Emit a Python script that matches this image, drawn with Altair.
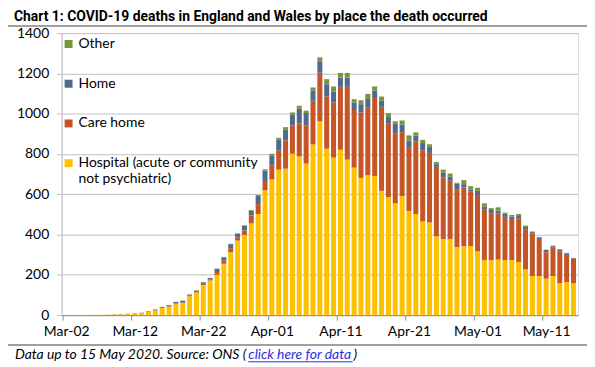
import altair as alt
import pandas as pd

# ---- categories -------------------------------------------------------------
dates = pd.date_range("2020-03-02", "2020-05-15", freq="D")
date_labels = [d.strftime("%b-%d") for d in dates]
tick_labels = date_labels[::10]

HOSP = "Hospital (acute or community not psychiatric)"
series_names = [HOSP, "Care home", "Home", "Other"]          # stacking order, bottom -> top
legend_order = ["Other", "Home", "Care home", HOSP]          # legend order, top -> bottom
legend_colors = ["#77963C", "#4F6A8A", "#C55527", "#FFC000"]

# ---- series values (deaths per day) ----------------------------------------
hospital = [1, 0, 1, 1, 2, 2, 3, 3, 4, 6,
            9, 10, 17, 24, 35, 42, 57, 60, 94, 112,
            150, 172, 200, 255, 312, 370, 398, 455, 502, 620,
            673, 722, 727, 801, 788, 752, 847, 962, 826, 782,
            821, 772, 732, 681, 695, 690, 617, 585, 555, 591,
            517, 502, 465, 460, 391, 378, 378, 338, 342, 342,
            317, 273, 273, 276, 273, 273, 263, 227, 194, 194,
            181, 194, 158, 164, 158]
care_home = [0, 0, 0, 0, 0, 0, 0, 0, 0, 0,
             0, 1, 1, 1, 2, 2, 3, 3, 3, 4,
             5, 4, 14, 15, 20, 15, 22, 40, 49, 46,
             71, 95, 140, 140, 164, 189, 217, 241, 259, 274,
             312, 361, 286, 325, 337, 388, 417, 365, 348, 317,
             317, 361, 353, 345, 345, 305, 289, 287, 292, 271,
             279, 250, 233, 230, 215, 200, 218, 197, 210, 184,
             131, 140, 159, 135, 122]
home = [0, 0, 0, 0, 0, 0, 0, 1, 1, 1,
        1, 1, 2, 3, 4, 5, 5, 8, 5, 6,
        8, 8, 15, 17, 20, 19, 23, 23, 40, 52,
        49, 53, 55, 55, 72, 62, 50, 57, 61, 54,
        46, 46, 38, 41, 41, 36, 30, 33, 46, 38,
        33, 28, 36, 30, 13, 23, 20, 27, 16, 11,
        21, 16, 20, 13, 16, 16, 11, 13, 8, 8,
        11, 8, 8, 8, 3]
other = [0, 0, 0, 0, 0, 0, 0, 0, 0, 0,
         0, 0, 0, 0, 0, 0, 1, 1, 1, 1,
         1, 1, 2, 2, 2, 2, 3, 4, 5, 6,
         8, 10, 11, 10, 15, 12, 16, 20, 25, 25,
         23, 23, 16, 20, 25, 21, 21, 20, 13, 20,
         25, 16, 16, 13, 11, 16, 16, 5, 20, 16,
         15, 16, 5, 16, 5, 8, 10, 7, 3, 2,
         2, 3, 3, 2, 1]

y_ticks = [0, 200, 400, 600, 800, 1000, 1200, 1400]

title_text = "Chart 1: COVID-19 deaths in England and Wales by place the death occurred"
foot_a = "Data up to 15 May 2020. Source: ONS ("
foot_b = "click here for data"
foot_c = ")"

# ---- long table -------------------------------------------------------------
rows = []
for k, (name, vals) in enumerate(zip(series_names, [hospital, care_home, home, other])):
    for lab, v in zip(date_labels, vals):
        rows.append({"date": lab, "place": name, "deaths": v, "stack": k})
df = pd.DataFrame(rows)

FONT = "Lato"
GRID = "#BFBFBF"

label_expr = ("datum.label == '" + HOSP + "' ? "
              "['Hospital (acute or community', 'not psychiatric)'] : datum.label")

bars = alt.Chart(df).mark_bar().encode(
    x=alt.X("date:O", sort=date_labels,
            scale=alt.Scale(paddingInner=0.27, paddingOuter=0.3),
            axis=alt.Axis(values=tick_labels, labelAngle=0, title=None,
                          tickOffset=-3.45, labelOffset=3.45, tickSize=5,
                          tickColor="#8C8C8C", domainColor="#8C8C8C",
                          labelFont=FONT, labelFontSize=14, labelColor="#000000",
                          labelPadding=5, grid=False)),
    y=alt.Y("deaths:Q", stack="zero",
            scale=alt.Scale(domain=[0, 1400], nice=False),
            axis=alt.Axis(values=y_ticks, format="d", title=None, grid=True, gridColor=GRID,
                          domain=True, domainColor=GRID, ticks=True, tickColor=GRID,
                          tickSize=5, labelFont=FONT, labelFontSize=14,
                          labelColor="#000000", labelPadding=8)),
    color=alt.Color("place:N",
                    scale=alt.Scale(domain=legend_order, range=legend_colors),
                    legend=alt.Legend(orient="none", legendX=0, legendY=4, title=None,
                                      direction="vertical", symbolType="square",
                                      symbolSize=64, symbolStrokeWidth=0,
                                      labelFont=FONT, labelFontSize=14,
                                      labelColor="#000000", labelOffset=3,
                                      labelLimit=400, rowPadding=26, padding=0,
                                      labelExpr=label_expr)),
    order=alt.Order("stack:Q", sort="ascending"),
)

one = pd.DataFrame({"a": [0]})

title = alt.Chart(pd.DataFrame({"t": [title_text]})).mark_text(
    align="left", baseline="middle", font="Roboto", fontSize=14, fontWeight="bold",
    color="#000000").encode(text="t:N", x=alt.value(-48), y=alt.value(-16))

top_rule = alt.Chart(one).mark_rule(color="#7F7F7F", strokeWidth=1.5).encode(
    x=alt.value(-54), x2=alt.value(530), y=alt.value(-7))
bottom_rule = alt.Chart(one).mark_rule(color="#7F7F7F", strokeWidth=1.5).encode(
    x=alt.value(-54), x2=alt.value(530), y=alt.value(314))

foot1 = alt.Chart(pd.DataFrame({"t": [foot_a]})).mark_text(
    align="left", baseline="middle", font=FONT, fontSize=14, fontStyle="italic",
    color="#000000").encode(text="t:N", x=alt.value(-47), y=alt.value(324))
foot2 = alt.Chart(pd.DataFrame({"t": [foot_b]})).mark_text(
    align="left", baseline="middle", font=FONT, fontSize=14, fontStyle="italic",
    color="#1F2FE0").encode(text="t:N", x=alt.value(188), y=alt.value(324))
foot3 = alt.Chart(pd.DataFrame({"t": [foot_c]})).mark_text(
    align="left", baseline="middle", font=FONT, fontSize=14, fontStyle="italic",
    color="#000000").encode(text="t:N", x=alt.value(294), y=alt.value(324))
underline = alt.Chart(one).mark_rule(color="#1F2FE0", strokeWidth=1).encode(
    x=alt.value(188), x2=alt.value(293), y=alt.value(331))

chart = alt.layer(bars, title, top_rule, bottom_rule, foot1, foot2, foot3, underline).properties(
    width=520, height=284,
    autosize=alt.AutoSizeParams(type="none"),
    padding={"left": 54, "top": 24, "right": 9, "bottom": 51},
).configure_view(stroke=None).configure(background="white")

chart.save("out.html", embed_options={"renderer": "svg", "actions": False})
